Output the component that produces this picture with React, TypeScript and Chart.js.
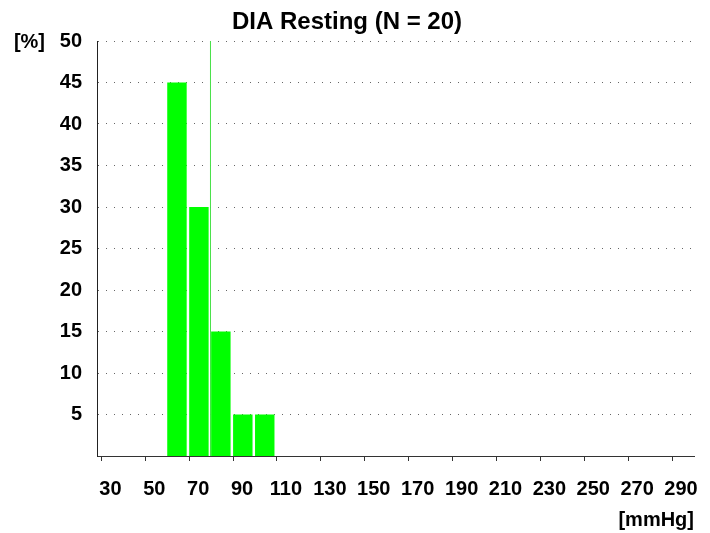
import React, { useEffect, useRef } from "react";
import { Chart, registerables } from "chart.js";

Chart.register(...registerables);

// ---- data ----
const binCenters = [65, 75, 85, 95, 105]; // mmHg, bins of width 10
const percentages = [45, 30, 15, 5, 5]; // %
const markerValue = 79.7; // vertical reference line (mmHg)
const xTicks = [30, 50, 70, 90, 110, 130, 150, 170, 190, 210, 230, 250, 270, 290];
const yTicks = [5, 10, 15, 20, 25, 30, 35, 40, 45, 50];
const titleText = "DIA Resting (N = 20)";
const yUnit = "[%]";
const xUnit = "[mmHg]";

const FONT = "'Liberation Sans', Arial, Helvetica, sans-serif";

const unitPlugin = {
  id: "units",
  afterDraw(chart: any) {
    const { ctx, chartArea } = chart;
    ctx.save();
    ctx.font = `bold 20px ${FONT}`;
    ctx.fillStyle = "#000";
    ctx.textBaseline = "alphabetic";
    ctx.textAlign = "right";
    ctx.fillText(yUnit, chartArea.left - 52, chartArea.top + 7);
    ctx.fillText(xUnit, chartArea.right, 526);
    ctx.restore();
  },
};

export default function App() {
  const ref = useRef<HTMLCanvasElement>(null);

  useEffect(() => {
    if (!ref.current) return;
    const chart = new Chart(ref.current, {
      type: "bar",
      data: {
        datasets: [
          {
            type: "line",
            data: [
              { x: markerValue, y: 0 },
              { x: markerValue, y: 50 },
            ],
            borderColor: "rgb(70,225,70)",
            borderWidth: 1,
            pointRadius: 0,
            order: 0,
          } as any,
          {
            type: "bar",
            data: binCenters.map((x, i) => ({ x, y: percentages[i] })),
            backgroundColor: "#00ff00",
            borderColor: "rgba(0,0,0,0)",
            borderWidth: { top: 0, right: 3, bottom: 0, left: 0 },
            borderSkipped: false,
            inflateAmount: 0.5,
            categoryPercentage: 1,
            barPercentage: 1,
            order: 1,
          } as any,
        ],
      },
      options: {
        responsive: false,
        animation: false,
        layout: { padding: { left: 0, right: 16, top: 0, bottom: 0 } },
        plugins: {
          legend: { display: false },
          tooltip: { enabled: false },
          title: {
            display: true,
            text: titleText,
            color: "#000",
            font: { family: FONT, size: 24, weight: "bold" },
            padding: { top: 8, bottom: 4.2 },
          },
        },
        scales: {
          x: {
            type: "linear",
            min: 28,
            max: 300,
            offset: false,
            afterFit: (s: any) => {
              s.height = 77;
            },
            afterBuildTicks: (s: any) => {
              s.ticks = xTicks.map((v) => ({ value: v }));
            },
            grid: {
              display: true,
              drawOnChartArea: false,
              drawTicks: true,
              tickLength: 5,
              tickColor: "#333",
              offset: false,
            },
            border: { display: true, color: "#333", width: 1 },
            ticks: {
              color: "#000",
              font: { family: FONT, size: 20, weight: "bold" },
              padding: 16,
              labelOffset: 9,
              maxRotation: 0,
              autoSkip: false,
              callback: (v: any) => String(v),
            },
          },
          y: {
            type: "linear",
            min: 0,
            max: 50,
            afterFit: (s: any) => {
              s.width = 97;
            },
            afterBuildTicks: (s: any) => {
              s.ticks = yTicks.map((v) => ({ value: v }));
            },
            grid: {
              display: true,
              drawOnChartArea: true,
              drawTicks: false,
              color: "#666",
              lineWidth: 1,
            },
            border: { display: true, color: "#222", width: 1, dash: [1, 7] },
            ticks: {
              color: "#000",
              font: { family: FONT, size: 20, weight: "bold" },
              padding: 15,
              autoSkip: false,
              callback: (v: any) => String(v),
            },
          },
        },
      },
      plugins: [unitPlugin],
    } as any);
    return () => chart.destroy();
  }, []);

  return (
    <div style={{ position: "fixed", left: 0, top: 0, width: 710, height: 533, background: "#fff" }}>
      <canvas ref={ref} width={710} height={533} style={{ display: "block" }} />
    </div>
  );
}
